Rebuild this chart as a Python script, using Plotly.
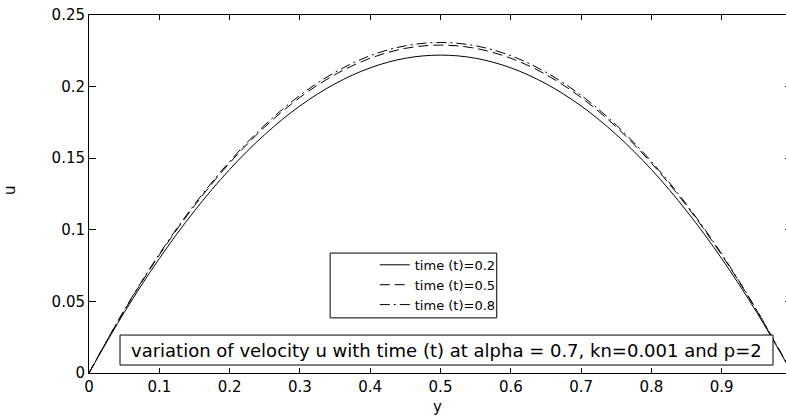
import plotly.graph_objects as go

# y positions across the channel
y_pos = [0.0, 0.05, 0.1, 0.15, 0.2, 0.25, 0.3, 0.35, 0.4, 0.45, 0.5,
         0.55, 0.6, 0.65, 0.7, 0.75, 0.8, 0.85, 0.9, 0.95, 1.0]

# velocity u for each time
u_t02 = [0.0, 0.0422, 0.0799, 0.1132, 0.1421, 0.1665, 0.1865, 0.2020, 0.2131, 0.2198, 0.2220,
         0.2198, 0.2131, 0.2020, 0.1865, 0.1665, 0.1421, 0.1132, 0.0799, 0.0422, 0.0]
u_t05 = [0.0, 0.0435, 0.0824, 0.1168, 0.1466, 0.1718, 0.1924, 0.2084, 0.2198, 0.2267, 0.2290,
         0.2267, 0.2198, 0.2084, 0.1924, 0.1718, 0.1466, 0.1168, 0.0824, 0.0435, 0.0]
u_t08 = [0.0, 0.0438, 0.0831, 0.1177, 0.1477, 0.1731, 0.1939, 0.2100, 0.2216, 0.2285, 0.2308,
         0.2285, 0.2216, 0.2100, 0.1939, 0.1731, 0.1477, 0.1177, 0.0831, 0.0438, 0.0]

series_names = ["time (t)=0.2", "time (t)=0.5", "time (t)=0.8"]
x_ticks = [0, 0.1, 0.2, 0.3, 0.4, 0.5, 0.6, 0.7, 0.8, 0.9]
x_tick_labels = ["0", "0.1", "0.2", "0.3", "0.4", "0.5", "0.6", "0.7", "0.8", "0.9"]
y_ticks = [0, 0.05, 0.1, 0.15, 0.2, 0.25]
y_tick_labels = ["0", "0.05", "0.1", "0.15", "0.2", "0.25"]
caption = "variation of velocity u with time (t) at alpha = 0.7, kn=0.001 and p=2"
x_title = "y"
y_title = "u"

FONT = "DejaVu Sans"

fig = go.Figure()
styles = ["solid", "10px,5px", "10px,4px,2px,4px"]
for name, vals, dash in zip(series_names, [u_t02, u_t05, u_t08], styles):
    fig.add_trace(go.Scatter(
        x=y_pos, y=vals, mode="lines", name=name,
        line=dict(color="black", width=1, dash=dash, shape="spline", smoothing=1.0),
    ))

# figure is a bit wider than the window: the right edge of the axes box
# lies just past the window edge, as in the reference
fig.update_layout(
    width=792, height=416,
    margin=dict(l=89, r=0, t=15, b=43, autoexpand=False),
    paper_bgcolor="white", plot_bgcolor="white",
    font=dict(family=FONT, size=15, color="black"),
    showlegend=True,
    legend=dict(
        x=0.4065, y=0.344, xanchor="left", yanchor="top",
        borderwidth=0, bgcolor="rgba(0,0,0,0)",
        font=dict(family=FONT, size=13, color="black"),
        tracegroupgap=0, itemwidth=30,
    ),
)

fig.update_xaxes(
    range=[0, 1], tickvals=x_ticks, ticktext=x_tick_labels,
    showline=True, linecolor="black", linewidth=1, mirror="ticks",
    ticks="inside", ticklen=5, tickcolor="black",
    showgrid=False, zeroline=False, automargin=False,
    ticklabeloverflow="allow",
)
fig.update_yaxes(
    range=[0, 0.25], tickvals=y_ticks, ticktext=y_tick_labels,
    showline=True, linecolor="black", linewidth=1, mirror="ticks",
    ticks="inside", ticklen=7, tickcolor="black",
    showgrid=False, zeroline=False, automargin=False,
    ticklabeloverflow="allow",
)

# axis titles
fig.add_annotation(text=x_title, xref="paper", yref="paper", x=0.4964, y=-0.095,
                   xanchor="center", yanchor="middle",
                   showarrow=False, font=dict(family=FONT, size=15))
fig.add_annotation(text=y_title, xref="paper", yref="paper", x=-0.1124, y=0.511,
                   xanchor="center", yanchor="middle",
                   textangle=-90, showarrow=False, font=dict(family=FONT, size=15))

# legend frame
fig.add_shape(type="rect", xref="paper", yref="paper",
              x0=0.343, x1=0.580, y0=0.154, y1=0.335,
              line=dict(color="black", width=1), fillcolor="white", layer="above")

# caption box
fig.add_shape(type="rect", xref="paper", yref="paper",
              x0=0.0441, x1=0.973, y0=0.0223, y1=0.106,
              line=dict(color="black", width=1), fillcolor="white", layer="above")
fig.add_annotation(text=caption, xref="paper", yref="paper",
                   x=0.509, y=0.064, xanchor="center", yanchor="middle",
                   showarrow=False,
                   font=dict(family=FONT, size=18, color="black"))

fig.write_html(
    "out.html",
    config={"displayModeBar": False},
    post_script="document.body.style.margin='0';document.body.style.overflow='hidden';",
)
